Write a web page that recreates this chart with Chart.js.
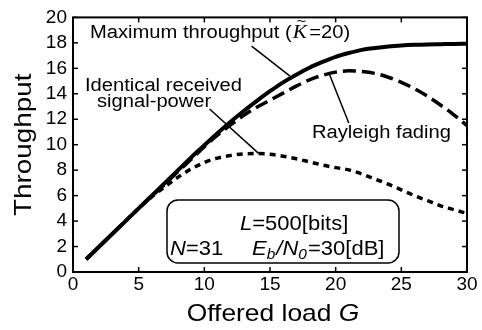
<!DOCTYPE html>
<html>
<head>
<meta charset="utf-8">
<script src="https://cdn.jsdelivr.net/npm/chart.js@4.4.1/dist/chart.umd.min.js"></script>
<style>
  html, body { margin: 0; padding: 0; background: #fff; }
  #wrap { width: 482px; height: 330px; }
</style>
</head>
<body>
<div id="wrap"><canvas id="chart" width="482" height="330"></canvas></div>
<script>
// offered load G (x) and throughput for the three curves
const offeredLoad = [1, 2, 3, 4, 5, 6, 7, 8, 9, 10, 11, 12, 13, 14, 15,
  16, 17, 18, 19, 20, 21, 22, 23, 24, 25, 26, 27, 28, 29, 30];
const maxThroughput = [1.0, 2.0, 3.0, 4.0, 5.0, 6.0, 7.0, 8.0, 9.0, 9.95,
  10.9, 11.8, 12.65, 13.45, 14.2, 14.9, 15.5, 16.05, 16.5, 16.9,
  17.2, 17.45, 17.6, 17.72, 17.8, 17.85, 17.88, 17.9, 17.92, 17.93];
const rayleighFading = [1.0, 2.0, 3.0, 4.0, 5.0, 5.95, 6.9, 7.9, 8.85, 9.85,
  10.75, 11.55, 12.3, 12.95, 13.5, 14.05, 14.6, 15.1, 15.45, 15.7,
  15.8, 15.75, 15.6, 15.3, 14.9, 14.4, 13.8, 13.1, 12.35, 11.5];
const identicalPower = [1.0, 2.0, 3.0, 4.0, 5.0, 5.9, 6.7, 7.45, 8.1, 8.6,
  8.95, 9.15, 9.28, 9.3, 9.25, 9.1, 8.9, 8.65, 8.4, 8.2,
  8.02, 7.7, 7.3, 6.9, 6.45, 6.0, 5.6, 5.2, 4.9, 4.6];

const xRange = [0, 30];
const yRange = [0, 20];

const FONT = "'Liberation Sans', Arial, sans-serif";

function toPoints(ys) {
  return offeredLoad.map((g, i) => ({ x: g, y: ys[i] }));
}

// draws a run of text pieces, stretched horizontally
function drawRuns(ctx, runs, x, y, stretch) {
  ctx.save();
  ctx.translate(x, y);
  ctx.scale(stretch, 1);
  ctx.textAlign = "left";
  ctx.textBaseline = "alphabetic";
  let cx = 0;
  runs.forEach((r) => {
    ctx.font = r.font;
    const w = ctx.measureText(r.text).width;
    ctx.fillText(r.text, cx, r.dy || 0);
    if (r.tilde) {
      ctx.font = "15px " + FONT;
      const tw = ctx.measureText("~").width;
      ctx.fillText("~", cx + w * 0.6 - tw / 2, -12);
    }
    cx += w + (r.after || 0);
  });
  ctx.restore();
}

function line(ctx, x1, y1, x2, y2) {
  ctx.beginPath();
  ctx.moveTo(x1, y1);
  ctx.lineTo(x2, y2);
  ctx.stroke();
}

const decorations = {
  id: "decorations",
  afterDraw(chart) {
    const ctx = chart.ctx;
    const a = chart.chartArea;
    const xs = chart.scales.x;
    const ys = chart.scales.y;
    const px = (v) => xs.getPixelForValue(v);
    const py = (v) => ys.getPixelForValue(v);

    ctx.save();
    ctx.strokeStyle = "#000";
    ctx.fillStyle = "#000";

    // frame
    ctx.lineWidth = 2;
    ctx.strokeRect(a.left, a.top, a.right - a.left, a.bottom - a.top);

    // inward ticks on all four sides
    ctx.lineWidth = 1.5;
    xs.ticks.forEach((t) => {
      const x = px(t.value);
      line(ctx, x, a.bottom, x, a.bottom - 5);
      line(ctx, x, a.top, x, a.top + 5);
    });
    ys.ticks.forEach((t) => {
      const y = py(t.value);
      line(ctx, a.left, y, a.left + 5, y);
      line(ctx, a.right, y, a.right - 5, y);
    });

    // pointer lines
    ctx.lineWidth = 1.5;
    line(ctx, px(13.6), py(17.75), px(16.5), py(15.4));
    line(ctx, px(10.4), py(12.8), px(14.15), py(9.3));
    line(ctx, px(19.5), py(15.6), px(21.0), py(11.7));

    // curve labels
    const f18 = "18px " + FONT;
    drawRuns(ctx, [
      { text: "Maximum throughput (", font: f18, after: 1 },
      { text: "K", font: "italic 19px 'Liberation Serif', serif", tilde: true, after: 2 },
      { text: "=20)", font: f18 }
    ], 90, 38, 1.12);
    drawRuns(ctx, [{ text: "Identical received", font: f18 }], 85, 91, 1.12);
    drawRuns(ctx, [{ text: "signal-power", font: f18 }], 97, 107, 1.12);
    drawRuns(ctx, [{ text: "Rayleigh fading", font: f18 }], 312, 138, 1.12);

    // parameter box
    ctx.lineWidth = 1.5;
    ctx.beginPath();
    ctx.roundRect(167, 200, 232, 63, 11);
    ctx.stroke();
    const f20 = "20px " + FONT;
    const i20 = "italic 20px " + FONT;
    const i14 = "italic 14px " + FONT;
    drawRuns(ctx, [
      { text: "L", font: i20 },
      { text: "=500[bits]", font: f20 }
    ], 240, 230, 1.1);
    drawRuns(ctx, [
      { text: "N", font: i20 },
      { text: "=31", font: f20 }
    ], 170, 255, 1.1);
    drawRuns(ctx, [
      { text: "E", font: i20 },
      { text: "b", font: i14, dy: 4, after: 1 },
      { text: "/N", font: i20 },
      { text: "0", font: i14, dy: 4, after: 1 },
      { text: "=30[dB]", font: f20 }
    ], 252, 255, 1.1);

    // axis titles
    ctx.save();
    ctx.translate(31, (a.top + a.bottom) / 2);
    ctx.rotate(-Math.PI / 2);
    ctx.scale(1.16, 1);
    ctx.font = "24px " + FONT;
    ctx.textAlign = "center";
    ctx.textBaseline = "alphabetic";
    ctx.fillText("Throughput", 0, 0);
    ctx.restore();

    ctx.font = "24px " + FONT;
    const w1 = ctx.measureText("Offered load ").width;
    ctx.font = "italic 24px " + FONT;
    const w2 = ctx.measureText("G").width;
    const total = (w1 + w2) * 1.1;
    drawRuns(ctx, [
      { text: "Offered load ", font: "24px " + FONT },
      { text: "G", font: "italic 24px " + FONT }
    ], (a.left + a.right) / 2 - total / 2 + 3, 321, 1.1);

    ctx.restore();
  }
};

const canvas = document.getElementById("chart");
const ctx = canvas.getContext("2d");

new Chart(ctx, {
  type: "line",
  data: {
    datasets: [
      {
        label: "Maximum throughput",
        data: toPoints(maxThroughput),
        borderColor: "#000",
        borderWidth: 4,
        pointRadius: 0,
        cubicInterpolationMode: "monotone",
        fill: false
      },
      {
        label: "Rayleigh fading",
        data: toPoints(rayleighFading),
        borderColor: "#000",
        borderWidth: 3.5,
        borderDash: [13, 6],
        pointRadius: 0,
        cubicInterpolationMode: "monotone",
        fill: false
      },
      {
        label: "Identical received signal-power",
        data: toPoints(identicalPower),
        borderColor: "#000",
        borderWidth: 3.5,
        borderDash: [6, 5],
        pointRadius: 0,
        cubicInterpolationMode: "monotone",
        fill: false
      }
    ]
  },
  options: {
    responsive: false,
    animation: false,
    devicePixelRatio: 1,
    layout: { padding: { top: 14, right: 15, left: 0, bottom: 0 } },
    plugins: {
      legend: { display: false },
      tooltip: { enabled: false }
    },
    scales: {
      x: {
        type: "linear",
        min: xRange[0],
        max: xRange[1],
        grid: { display: false, drawTicks: false, tickLength: 0 },
        border: { display: false },
        ticks: {
          stepSize: 5,
          autoSkip: false,
          color: "#000",
          padding: 1,
          maxRotation: 0,
          font: { family: FONT, size: 19 }
        },
        afterFit(scale) { scale.height = 58; }
      },
      y: {
        type: "linear",
        min: yRange[0],
        max: yRange[1],
        grid: { display: false, drawTicks: false, tickLength: 0 },
        border: { display: false },
        ticks: {
          stepSize: 2,
          autoSkip: false,
          color: "#000",
          padding: 6,
          font: { family: FONT, size: 19 }
        },
        afterFit(scale) { scale.width = 73; }
      }
    }
  },
  plugins: [decorations]
});
</script>
</body>
</html>
